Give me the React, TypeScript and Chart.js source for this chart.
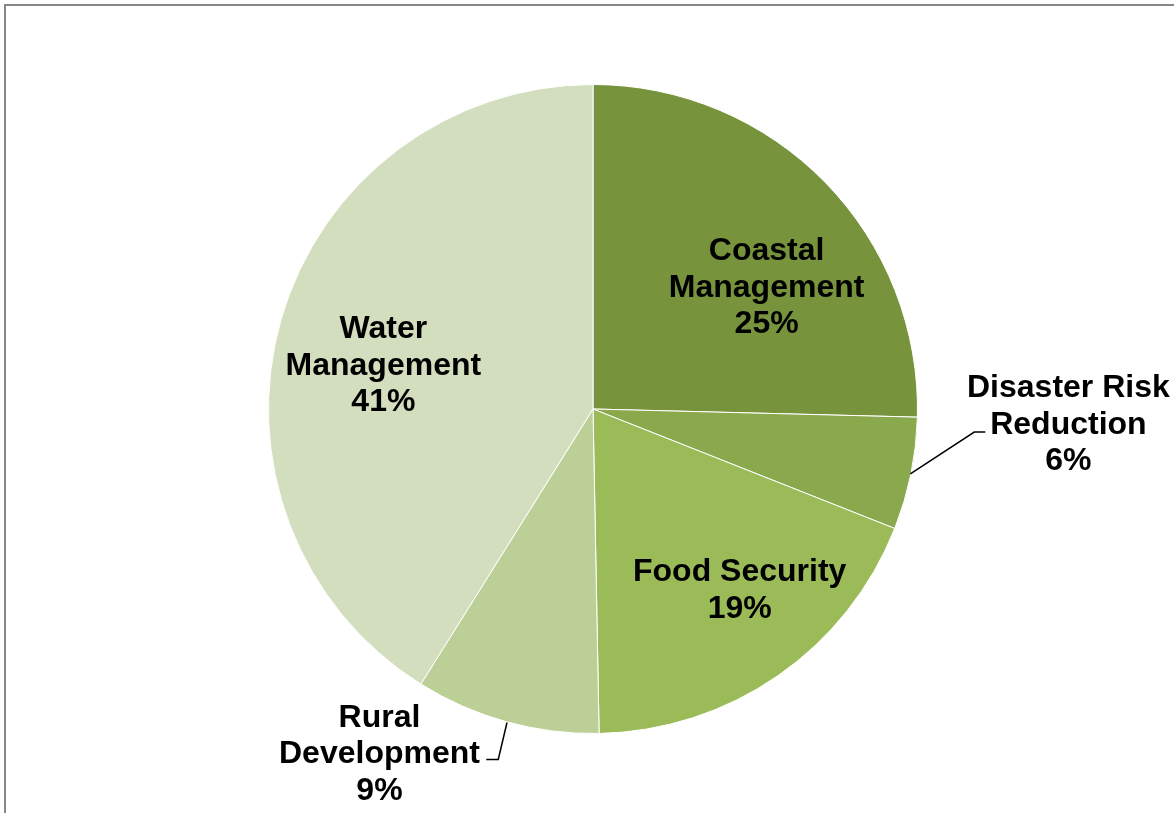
import React, { useEffect, useRef } from "react";
import { Chart, registerables } from "chart.js";

Chart.register(...registerables);

const categories = ["Coastal Management", "Disaster Risk Reduction", "Food Security", "Rural Development", "Water Management"];
const values = [25.4, 5.6, 18.7, 9.2, 41.1];
const percentLabels = ["25%", "6%", "19%", "9%", "41%"];
const labelLines = [
  ["Coastal", "Management", "25%"],
  ["Disaster Risk", "Reduction", "6%"],
  ["Food Security", "19%"],
  ["Rural", "Development", "9%"],
  ["Water", "Management", "41%"],
];
const colors = ["#77933C", "#8AA84C", "#9BBB59", "#BBCF97", "#D2DEBE"];

// label anchor positions in units of radius relative to pie centre
const labelAnchors = [
  [0.535, -0.373],
  [1.465, 0.049],
  [0.452, 0.56],
  [-0.658, 1.064],
  [-0.646, -0.133],
];
// leader lines (in units of radius relative to centre)
const leaders: Record<number, number[][]> = {
  1: [[0.978, 0.2], [1.175, 0.071], [1.209, 0.071]],
  3: [[-0.265, 0.966], [-0.292, 1.08], [-0.329, 1.08]],
};

const labelPlugin = {
  id: "customLabels",
  beforeDraw(chart: any) {
    const ctx = chart.ctx;
    ctx.save();
    ctx.strokeStyle = "#878787";
    ctx.lineWidth = 2;
    ctx.beginPath();
    ctx.moveTo(5, 813);
    ctx.lineTo(5, 5);
    ctx.lineTo(1174, 5);
    ctx.stroke();
    ctx.restore();
  },
  afterDraw(chart: any) {
    const ctx = chart.ctx;
    const meta = chart.getDatasetMeta(0);
    const arc = meta.data[0];
    const cx = arc.x;
    const cy = arc.y;
    const r = arc.outerRadius;
    ctx.save();
    ctx.strokeStyle = "#000";
    ctx.lineWidth = 1.5;
    Object.keys(leaders).forEach((k) => {
      const pts = leaders[+k];
      ctx.beginPath();
      pts.forEach((p, i) => {
        const x = cx + p[0] * r;
        const y = cy + p[1] * r;
        if (i === 0) ctx.moveTo(x, y);
        else ctx.lineTo(x, y);
      });
      ctx.stroke();
    });
    ctx.fillStyle = "#000";
    ctx.font = "bold 32px 'Liberation Sans', Arial, sans-serif";
    ctx.textAlign = "center";
    ctx.textBaseline = "middle";
    const lh = 36.5;
    labelLines.forEach((lines, i) => {
      const ax = cx + labelAnchors[i][0] * r;
      const ay = cy + labelAnchors[i][1] * r;
      const n = lines.length;
      lines.forEach((t, j) => {
        ctx.fillText(t, ax, ay + (j - (n - 1) / 2) * lh);
      });
    });
    ctx.restore();
  },
};

export default function App() {
  const ref = useRef<HTMLCanvasElement>(null);
  useEffect(() => {
    if (!ref.current) return;
    const chart = new Chart(ref.current, {
      type: "pie",
      data: {
        labels: categories,
        datasets: [
          {
            data: values,
            backgroundColor: colors,
            borderColor: "#ffffff",
            borderWidth: 1,
          },
        ],
      },
      options: {
        animation: false,
        responsive: false,
        layout: { padding: { top: 84, bottom: 79, left: 268, right: 256 } },
        plugins: {
          legend: { display: false },
          tooltip: { enabled: false },
        },
      },
      plugins: [labelPlugin],
    });
    return () => chart.destroy();
  }, []);
  return (
    <div style={{ position: "fixed", left: 0, top: 0, width: 1174, height: 813, background: "#fff" }}>
      <canvas ref={ref} width={1174} height={813} style={{ width: 1174, height: 813 }} />
    </div>
  );
}
